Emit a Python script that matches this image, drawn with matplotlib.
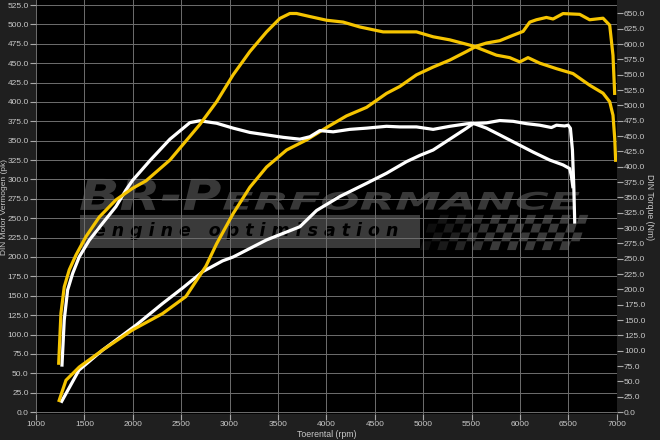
import matplotlib
matplotlib.use("Agg")
import matplotlib.pyplot as plt
from matplotlib.patches import Rectangle, Polygon, PathPatch
from matplotlib.textpath import TextPath
from matplotlib.font_manager import FontProperties
from matplotlib.transforms import Affine2D
from matplotlib.ticker import MultipleLocator, FormatStrFormatter

# tuned (yellow) power, pk
tuned_pk_rpm = [1234, 1310, 1447, 1689, 1999, 2308, 2549, 2755, 2866, 3037, 3210, 3382, 3589,
                3795, 4002, 4208, 4415, 4621, 4759, 4931, 5103, 5275, 5447, 5551, 5654, 5791,
                5929, 6032, 6101, 6170, 6273, 6342, 6445, 6617, 6720, 6858, 6927, 6961, 6979]
tuned_pk = [13, 41, 58, 80, 106, 127, 149, 188, 217, 256, 290, 316, 338,
            351, 367, 382, 393, 411, 420, 435, 445, 454, 465, 472, 476, 479,
            486, 491, 503, 506, 509, 507, 514, 513, 506, 508, 499, 460, 409]

# tuned (yellow) torque, Nm
tuned_nm_rpm = [1234, 1258, 1292, 1344, 1413, 1516, 1654, 1826, 1999, 2136, 2384, 2693, 2866,
                3037, 3210, 3382, 3520, 3623, 3692, 3830, 4002, 4173, 4346, 4586, 4759, 4931,
                5103, 5275, 5516, 5757, 5894, 5998, 6083, 6204, 6377, 6548, 6720, 6858, 6927,
                6961, 6979, 6989]
tuned_nm = [77, 161, 204, 232, 256, 286, 318, 346, 365, 377, 411, 469, 506,
            550, 588, 620, 642, 650, 650, 645, 639, 636, 628, 620, 620, 620,
            612, 607, 597, 582, 578, 571, 578, 569, 560, 552, 533, 520, 506,
            484, 446, 408]

# stock (white) power, pk
stock_pk_rpm = [1258, 1444, 1689, 2033, 2308, 2515, 2721, 2928, 3037, 3382, 3726, 3899, 4139,
                4415, 4621, 4828, 4965, 5103, 5275, 5447, 5516, 5654, 5791, 5929, 6067, 6204,
                6325, 6377, 6462, 6497, 6521, 6542, 6556, 6566]
stock_pk = [12, 54, 80, 112, 140, 160, 181, 195, 200, 222, 239, 260, 278,
            295, 308, 323, 331, 338, 352, 366, 372, 373, 376, 375, 372, 370,
            367, 370, 369, 370, 366, 338, 291, 243]

# stock (white) torque, Nm
stock_nm_rpm = [1268, 1292, 1327, 1379, 1447, 1550, 1689, 1826, 1929, 1999, 2177, 2384, 2590,
                2693, 2866, 3037, 3210, 3382, 3554, 3726, 3830, 3933, 4070, 4242, 4415, 4621,
                4759, 4931, 5103, 5275, 5447, 5516, 5654, 5791, 5963, 6135, 6307, 6445, 6514,
                6532, 6548]
stock_nm = [74, 150, 199, 226, 253, 280, 308, 335, 362, 378, 410, 445, 472,
            475, 471, 463, 456, 452, 448, 445, 449, 459, 457, 461, 463, 466,
            465, 465, 461, 466, 470, 471, 463, 452, 438, 424, 411, 403, 397,
            384, 365]

yellow = "#f5c400"
fg = "#c8c8c8"
font = "Liberation Sans"

fig = plt.figure(figsize=(6.6, 4.4), dpi=100, facecolor="#1f1f1f")
ax = fig.add_axes([0.0545, 0.059, 0.880, 0.941])
ax.set_facecolor("black")
ax2 = ax.twinx()

ax.set_xlim(1000, 7000)
ax.set_ylim(-2.6, 531.5)
ax2.set_ylim(-3.3, 672)

ax.xaxis.set_major_locator(MultipleLocator(500))
ax.yaxis.set_major_locator(MultipleLocator(25))
ax2.yaxis.set_major_locator(MultipleLocator(25))
ax.yaxis.set_major_formatter(FormatStrFormatter("%.1f"))
ax2.yaxis.set_major_formatter(FormatStrFormatter("%.1f"))
ax.grid(True, color="#6e6e6e", linewidth=0.7)

for a in (ax, ax2):
    for s in a.spines.values():
        s.set_visible(False)
    a.tick_params(colors="#aaaaaa", labelcolor=fg, labelsize=6, length=4, width=0.8, pad=1.2)
    for lab in a.get_xticklabels() + a.get_yticklabels():
        lab.set_fontfamily(font)

ax.set_xlabel("Toerental (rpm)", color=fg, fontsize=6.3, family=font)
ax.xaxis.set_label_coords(0.5, -0.038)
ax.set_ylabel("DIN Motor Vermogen (pk)", color=fg, fontsize=6, family=font)
ax.yaxis.set_label_coords(-0.048, 0.5)
ax2.set_ylabel("DIN Torque (Nm)", color=fg, fontsize=6.3, family=font, rotation=270, labelpad=6)

# watermark
wm = "#383838"
prop = FontProperties(family="DejaVu Sans", weight="bold", style="italic")


def fit_text(s, x0, x1, y0, y1, color):
    tp = TextPath((0, 0), s, size=1, prop=prop)
    ext = tp.get_extents()
    tr = (Affine2D().translate(-ext.x0, -ext.y0)
          .scale((x1 - x0) / ext.width, (y1 - y0) / ext.height)
          .translate(x0, y0) + ax.transAxes)
    ax.add_patch(PathPatch(tp, transform=tr, facecolor=color, edgecolor="none", zorder=0.5))


fit_text("BR-P", 0.076, 0.318, 0.493, 0.568, wm)
fit_text("ERFORMANCE", 0.322, 0.936, 0.493, 0.537, wm)
ax.add_patch(Rectangle((0.076, 0.401), 0.585, 0.080, transform=ax.transAxes,
                       facecolor="#3a3a3a", edgecolor="none", zorder=0.4))
ax.text(0.10, 0.441, "e n g i n e   o p t i m i s a t i o n", transform=ax.transAxes,
        fontsize=12.5, fontweight="bold", style="italic", color="black", va="center", zorder=0.5)
cols, rows = 18, 4
w, h = 0.27 / cols, 0.085 / rows
for r in range(rows):
    for c in range(cols):
        if (r + c) % 2:
            continue
        x0 = 0.661 + c * w + r * 0.005
        y0 = 0.396 + r * h
        ax.add_patch(Polygon([(x0, y0), (x0 + w, y0), (x0 + w + 0.005, y0 + h), (x0 + 0.005, y0 + h)],
                             closed=True, transform=ax.transAxes, facecolor="#3a3a3a",
                             edgecolor="none", alpha=min(1.0, 0.25 + c / 10), zorder=0.4))

lw = 2.3
ax.plot(stock_pk_rpm, stock_pk, color="white", lw=lw, solid_capstyle="butt", zorder=3)
ax.plot(tuned_pk_rpm, tuned_pk, color=yellow, lw=lw, solid_capstyle="butt", zorder=3)
ax2.plot(stock_nm_rpm, stock_nm, color="white", lw=lw, solid_capstyle="butt")
ax2.plot(tuned_nm_rpm, tuned_nm, color=yellow, lw=lw, solid_capstyle="butt")

fig.savefig("out.png", dpi=100, facecolor=fig.get_facecolor())
